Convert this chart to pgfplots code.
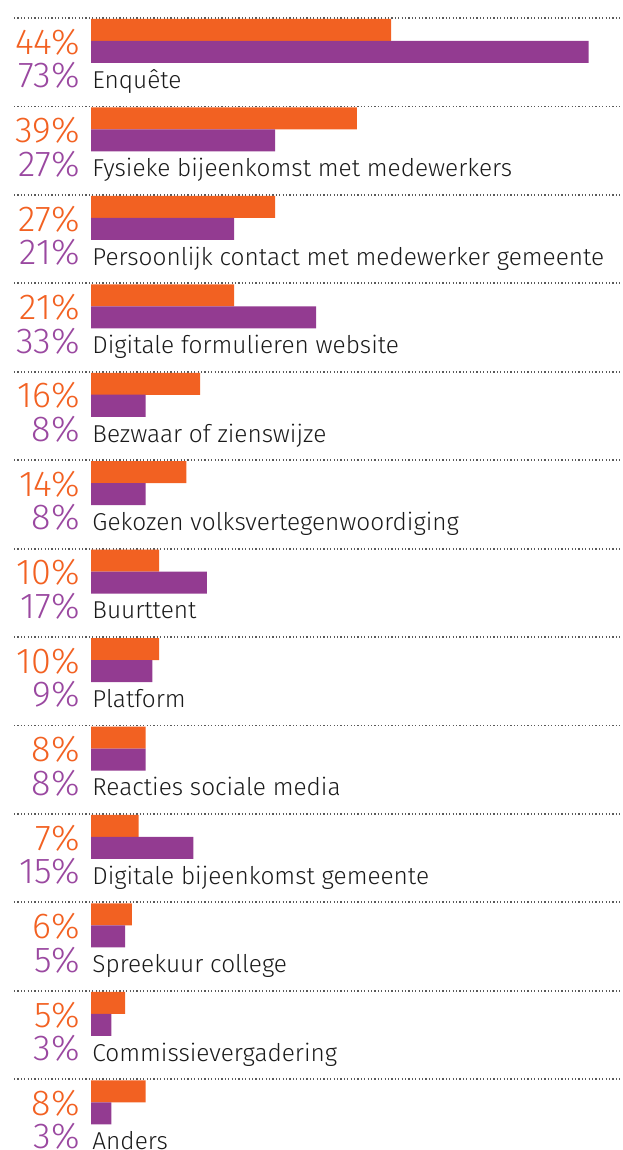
\documentclass[border=0pt]{standalone}
\usepackage{pgfplots}
\pgfplotsset{compat=1.18}
\usepackage{pgfplotstable}
\usepackage{fontspec}
\setmainfont{Fira Sans}[UprightFont=* Light]

\definecolor{oranje}{HTML}{F26122}
\definecolor{paars}{HTML}{933B91}
\definecolor{paarstekst}{HTML}{9A48A0}
\definecolor{tekst}{HTML}{1A1A1A}

% i = groep, o = oranje, p = paars
\pgfplotstableread[col sep=semicolon]{
i;o;p;naam
0;44;73;Enquête
1;39;27;Fysieke bijeenkomst met medewerkers
2;27;21;Persoonlijk contact met medewerker gemeente
3;21;33;Digitale formulieren website
4;16;8;Bezwaar of zienswijze
5;14;8;Gekozen volksvertegenwoordiging
6;10;17;Buurttent
7;10;9;Platform
8;8;8;Reacties sociale media
9;7;15;Digitale bijeenkomst gemeente
10;6;5;Spreekuur college
11;5;3;Commissievergadering
12;8;3;Anders
}\data

\begin{document}
\begin{tikzpicture}
\begin{axis}[
    name=ax,
    hide axis,
    scale only axis,
    width=311pt, height=575pt,
    xmin=-13.35, xmax=77.88,
    ymin=-0.2035, ymax=12.80,
    y dir=reverse,
    clip=false,
    /pgf/number format/assume math mode=true,
]
\pgfplotsinvokeforeach{0,...,12}{
  \draw[black!65, line width=0.9pt, dash pattern=on 0.6pt off 1.1pt]
    (axis cs:-11.29,#1) -- (axis cs:77.88,#1);
}
\addplot[xbar, bar shift=0pt, bar width=0.2488, fill=oranje, draw=none]
  table[x=o, y expr=\thisrow{i}+0.1357] {\data};
\addplot[xbar, bar shift=0pt, bar width=0.2488, fill=paars, draw=none]
  table[x=p, y expr=\thisrow{i}+0.3844] {\data};
% percentages
\addplot[draw=none, mark=none, point meta=\thisrow{o},
  nodes near coords={\pgfmathprintnumber{\pgfplotspointmeta}\%},
  every node near coord/.append style={anchor=east, inner sep=0pt, text=oranje,
    font=\fontsize{18}{18}\selectfont}]
  table[x expr=-1.61, y expr=\thisrow{i}+0.271] {\data};
\addplot[draw=none, mark=none, point meta=\thisrow{p},
  nodes near coords={\pgfmathprintnumber{\pgfplotspointmeta}\%},
  every node near coord/.append style={anchor=east, inner sep=0pt, text=paarstekst,
    font=\fontsize{18}{18}\selectfont}]
  table[x expr=-1.61, y expr=\thisrow{i}+0.650] {\data};
% labels
\addplot[draw=none, mark=none, point meta=explicit symbolic,
  nodes near coords,
  every node near coord/.append style={anchor=base west, inner sep=0pt, text=tekst,
    font=\fontsize{12.2}{12.2}\selectfont}]
  table[x expr=0.15, y expr=\thisrow{i}+0.795, meta=naam] {\data};
\end{axis}
\pgfresetboundingbox
\path (ax.south west) rectangle (ax.north east);
\end{tikzpicture}
\end{document}
